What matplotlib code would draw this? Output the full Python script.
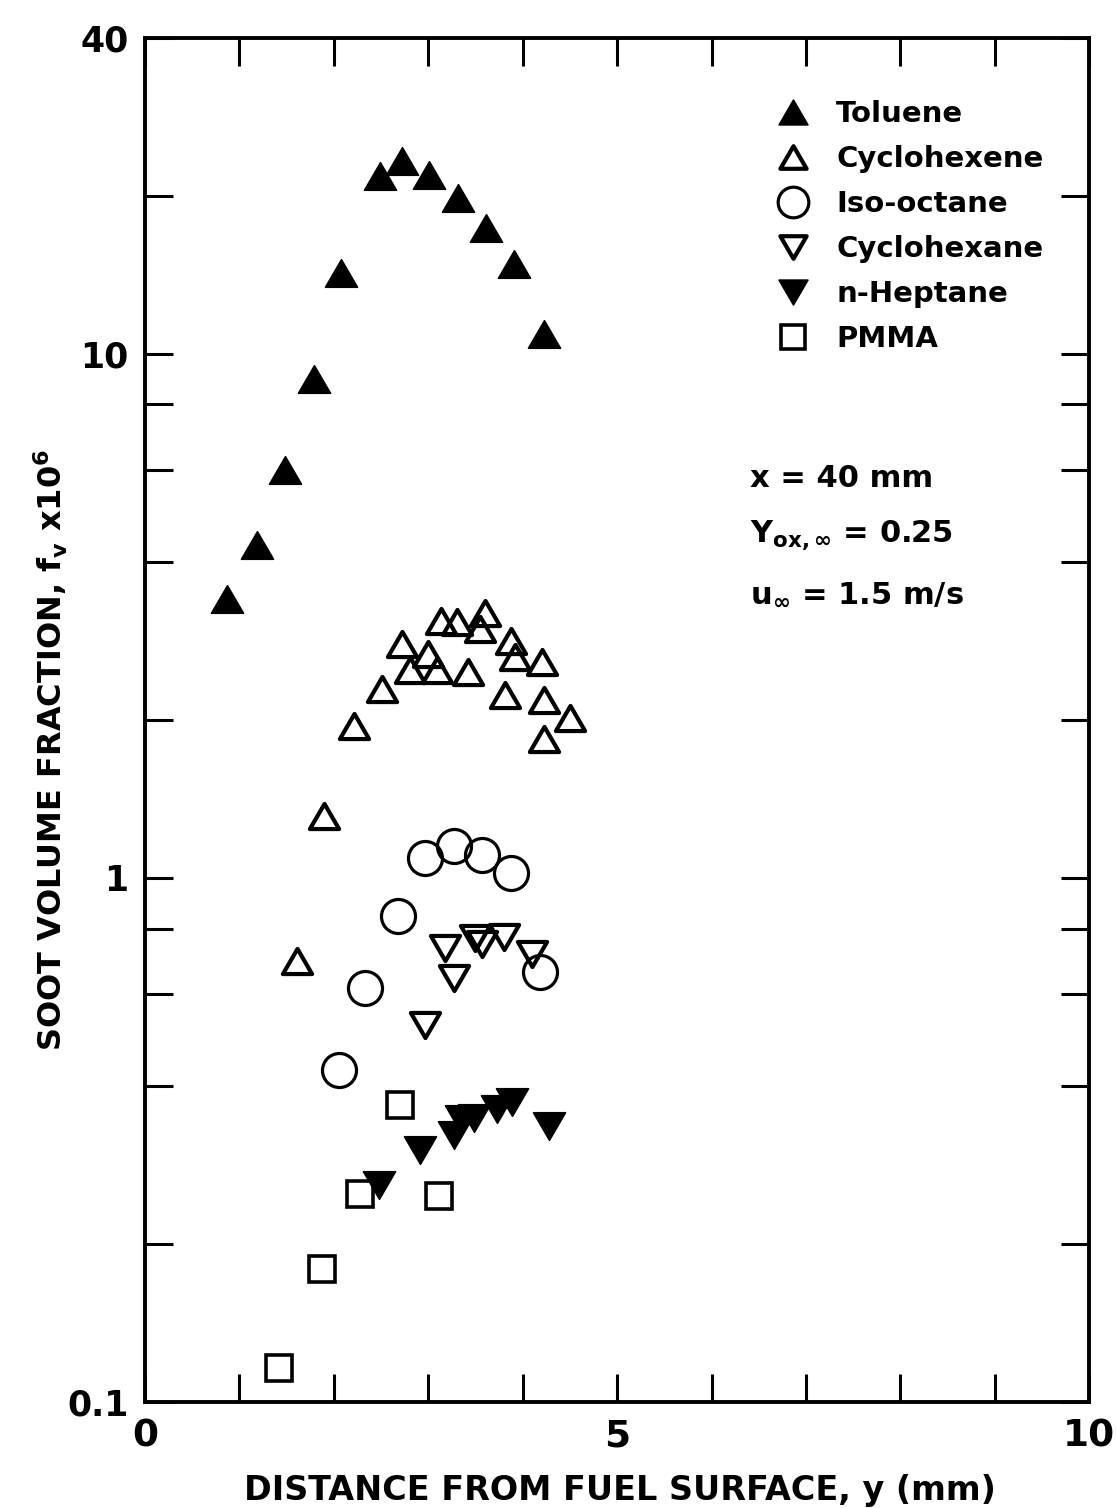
import matplotlib
matplotlib.use("Agg")
import matplotlib.pyplot as plt
from matplotlib.markers import MarkerStyle
from matplotlib.path import Path
from matplotlib.ticker import FixedLocator, NullFormatter, FixedFormatter

# ---- measured soot volume fraction profiles (x = 40 mm) ----
toluene_y = [0.87, 1.19, 1.48, 1.79, 2.08, 2.49, 2.72, 3.01, 3.31, 3.61, 3.91, 4.22]
toluene_fv = [3.40, 4.31, 5.99, 8.94, 14.25, 21.8, 23.3, 21.9, 19.8, 17.4, 14.8, 10.9]

cyclohexene_y = [2.21, 2.51, 2.72, 3.00, 2.81, 3.09, 3.42, 3.13, 3.30, 3.60,
                 3.55, 3.88, 3.92, 4.20, 3.81, 4.22, 4.50, 4.22, 1.90, 1.61]
cyclohexene_fv = [1.95, 2.29, 2.79, 2.67, 2.49, 2.49, 2.47, 3.09, 3.08, 3.20,
                  2.98, 2.83, 2.64, 2.58, 2.23, 2.18, 2.02, 1.84, 1.31, 0.695]

isooctane_y = [2.97, 3.27, 3.57, 3.88, 2.68, 4.18, 2.33, 2.05]
isooctane_fv = [1.09, 1.151, 1.106, 1.021, 0.844, 0.662, 0.616, 0.430]

cyclohexane_y = [3.18, 3.49, 3.57, 3.80, 4.10, 3.27, 2.97]
cyclohexane_fv = [0.734, 0.767, 0.747, 0.770, 0.715, 0.643, 0.523]

heptane_y = [2.48, 2.91, 3.27, 3.35, 3.48, 3.73, 3.89, 4.28]
heptane_fv = [0.259, 0.303, 0.323, 0.347, 0.348, 0.362, 0.373, 0.336]

pmma_y = [1.42, 1.87, 2.28, 2.70, 3.11]
pmma_fv = [0.116, 0.179, 0.249, 0.369, 0.247]

y_major = [0.1, 1, 10, 40]
y_major_labels = ["0.1", "1", "10", "40"]
y_minor = [0.2, 0.4, 0.6, 0.8, 2, 4, 6, 8, 20]
x_major = [0, 5, 10]
x_major_labels = ["0", "5", "10"]
x_minor = [1, 2, 3, 4, 6, 7, 8, 9]

plt.rcParams["font.family"] = ["DejaVu Sans"]
plt.rcParams["font.weight"] = "bold"
plt.rcParams["axes.labelweight"] = "bold"
plt.rcParams["mathtext.fontset"] = "dejavusans"
plt.rcParams["mathtext.default"] = "bf"

fig = plt.figure(figsize=(11.16, 15.08), dpi=100)
ax = fig.add_axes([0.130, 0.0703, 0.846, 0.9045])

# slightly squat triangles with rounded corners
up_tri = MarkerStyle(Path([(0, 0.86), (-1, -0.86), (1, -0.86), (0, 0.86)],
                          [Path.MOVETO, Path.LINETO, Path.LINETO, Path.CLOSEPOLY]),
                     joinstyle="round")
down_tri = MarkerStyle(Path([(0, -0.86), (-1, 0.86), (1, 0.86), (0, -0.86)],
                            [Path.MOVETO, Path.LINETO, Path.LINETO, Path.CLOSEPOLY]),
                       joinstyle="round")

h_pmma, = ax.plot(pmma_y, pmma_fv, ls="none", marker="s", ms=19,
                  mfc="none", mec="black", mew=2.6, label="PMMA")
h_iso, = ax.plot(isooctane_y, isooctane_fv, ls="none", marker="o", ms=24.5,
                 mfc="none", mec="black", mew=2.3, label="Iso-octane")
h_chx, = ax.plot(cyclohexane_y, cyclohexane_fv, ls="none", marker=down_tri, ms=21,
                 mfc="none", mec="black", mew=3.0, label="Cyclohexane")
h_hep, = ax.plot(heptane_y, heptane_fv, ls="none", marker=down_tri, ms=23,
                 mfc="black", mec="black", mew=1.2, label="n-Heptane")
h_che, = ax.plot(cyclohexene_y, cyclohexene_fv, ls="none", marker=up_tri, ms=21,
                 mfc="none", mec="black", mew=3.0, label="Cyclohexene")
h_tol, = ax.plot(toluene_y, toluene_fv, ls="none", marker=up_tri, ms=23,
                 mfc="black", mec="black", mew=1.2, label="Toluene")

ax.set_yscale("log")
ax.set_xlim(0, 10)
ax.set_ylim(0.1, 40)

ax.yaxis.set_major_locator(FixedLocator(y_major))
ax.yaxis.set_major_formatter(FixedFormatter(y_major_labels))
ax.yaxis.set_minor_locator(FixedLocator(y_minor))
ax.yaxis.set_minor_formatter(NullFormatter())
ax.xaxis.set_major_locator(FixedLocator(x_major))
ax.xaxis.set_major_formatter(FixedFormatter(x_major_labels))
ax.xaxis.set_minor_locator(FixedLocator(x_minor))
ax.xaxis.set_minor_formatter(NullFormatter())

ax.tick_params(which="both", direction="in", top=True, right=True,
               length=20, width=2.2, color="black")
ax.tick_params(axis="y", which="major", labelsize=25, pad=12)
ax.tick_params(axis="x", which="major", labelsize=27, pad=12)
for s in ax.spines.values():
    s.set_linewidth(2.8)

ax.set_xlabel("DISTANCE FROM FUEL SURFACE, y (mm)", fontsize=24)
ax.xaxis.set_label_coords(0.503, -0.053)
ax.set_ylabel(r"SOOT VOLUME FRACTION, $f_v$ x10$^6$", fontsize=23)
ax.yaxis.set_label_coords(-0.079, 0.478)

leg = ax.legend(handles=[h_tol, h_che, h_iso, h_chx, h_hep, h_pmma],
                loc="upper left", bbox_to_anchor=(0.658, 0.963),
                frameon=False, fontsize=21, markerscale=0.9,
                handlelength=1.0, handletextpad=1.0, labelspacing=0.58,
                borderaxespad=0.0)

ax.text(0.641, 0.677, "x = 40 mm", transform=ax.transAxes,
        fontsize=22, va="center", ha="left")
ax.text(0.641, 0.635, r"Y$_{\mathregular{ox,\infty}}$ = 0.25", transform=ax.transAxes,
        fontsize=22, va="center", ha="left")
ax.text(0.641, 0.592, r"u$_{\infty}$ = 1.5 m/s", transform=ax.transAxes,
        fontsize=22, va="center", ha="left")

fig.savefig("out.png", dpi=100, facecolor="white")
